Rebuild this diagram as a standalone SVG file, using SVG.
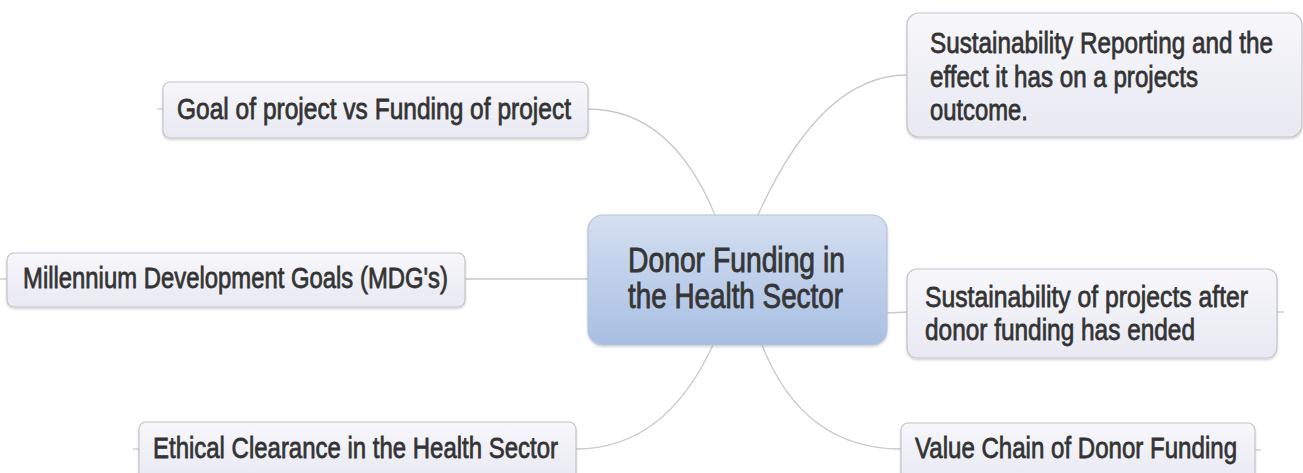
<svg xmlns="http://www.w3.org/2000/svg" width="1303" height="473" viewBox="0 0 1303 473">
<defs>
<linearGradient id="leafFill" x1="0" y1="0" x2="0" y2="1">
<stop offset="0" stop-color="#f7f7fb"/>
<stop offset="1" stop-color="#e8e9f2"/>
</linearGradient>
<linearGradient id="centerFill" x1="0" y1="0" x2="0" y2="1">
<stop offset="0" stop-color="#d4dff1"/>
<stop offset="1" stop-color="#a8bfe3"/>
</linearGradient>
<filter id="shadow" x="-5%" y="-10%" width="110%" height="130%">
<feDropShadow dx="0" dy="1.5" stdDeviation="1.2" flood-color="#000" flood-opacity="0.18"/>
</filter>
</defs>
<style>
.leaf{fill:url(#leafFill);stroke:#c4c4c8;stroke-width:1.2;filter:url(#shadow)}
.center{fill:url(#centerFill);stroke:#b6c3d8;stroke-width:1.2;filter:url(#shadow)}
.t{font-family:"Liberation Sans Narrow","Liberation Sans",Arial,sans-serif;font-size:29.5px;fill:#333333;stroke:#333333;stroke-width:0.75}
.tc{font-family:"Liberation Sans Narrow","Liberation Sans",Arial,sans-serif;font-size:34.5px;fill:#363636;stroke:#363636;stroke-width:0.85}
.c{fill:none;stroke:#c9c9c9;stroke-width:1.3}
</style>
<rect width="1303" height="473" fill="#ffffff"/>
<g id="connectors">
<path class="c" d="M465,279 L588,279"/>
<path class="c" d="M0,279 L7,279"/>
<path class="c" d="M588,109 Q671,109 715,215"/>
<path class="c" d="M157,109 L163,109"/>
<path class="c" d="M758,215 Q821,75 907,75"/>
<path class="c" d="M887,313 L907,312"/>
<path class="c" d="M1277,312 L1284,312"/>
<path class="c" d="M713,345 Q665,449 576,449"/>
<path class="c" d="M133,449 L139,449"/>
<path class="c" d="M762,345 Q803,449 901,449"/>
<path class="c" d="M1255,450 L1261,450"/>
</g>
<g id="node-center">
<rect class="center" x="588" y="215" width="299" height="130" rx="15"/>
<text class="tc" transform="translate(628,272) scale(0.82,1)" textLength="264.6" lengthAdjust="spacingAndGlyphs">Donor Funding in</text>
<text class="tc" transform="translate(628,308) scale(0.82,1)" textLength="262.2" lengthAdjust="spacingAndGlyphs">the Health Sector</text>
</g>
<g id="node-goal">
<rect class="leaf" x="163" y="82" width="425" height="56" rx="7"/>
<text class="t" transform="translate(177,119) scale(0.82,1)" textLength="480.5" lengthAdjust="spacingAndGlyphs">Goal of project vs Funding of project</text>
</g>
<g id="node-mdg">
<rect class="leaf" x="7" y="253" width="458" height="54" rx="7"/>
<text class="t" transform="translate(23,288) scale(0.82,1)" textLength="518.3" lengthAdjust="spacingAndGlyphs">Millennium Development Goals (MDG's)</text>
</g>
<g id="node-ethical">
<rect class="leaf" x="139" y="422" width="437" height="60" rx="7"/>
<text class="t" transform="translate(153,458) scale(0.82,1)" textLength="493.9" lengthAdjust="spacingAndGlyphs">Ethical Clearance in the Health Sector</text>
</g>
<g id="node-reporting">
<rect class="leaf" x="907" y="13" width="395" height="124" rx="12"/>
<text class="t" transform="translate(930,53) scale(0.82,1)" textLength="418.3" lengthAdjust="spacingAndGlyphs">Sustainability Reporting and the</text>
<text class="t" transform="translate(930,86.5) scale(0.82,1)" textLength="326.8" lengthAdjust="spacingAndGlyphs">effect it has on a projects</text>
<text class="t" transform="translate(930,120) scale(0.82,1)" textLength="119.5" lengthAdjust="spacingAndGlyphs">outcome.</text>
</g>
<g id="node-sustain">
<rect class="leaf" x="907" y="269" width="370" height="89" rx="10"/>
<text class="t" transform="translate(925,307) scale(0.82,1)" textLength="393.9" lengthAdjust="spacingAndGlyphs">Sustainability of projects after</text>
<text class="t" transform="translate(925,340) scale(0.82,1)" textLength="329.3" lengthAdjust="spacingAndGlyphs">donor funding has ended</text>
</g>
<g id="node-value">
<rect class="leaf" x="901" y="423" width="354" height="60" rx="7"/>
<text class="t" transform="translate(915,458) scale(0.82,1)" textLength="392.7" lengthAdjust="spacingAndGlyphs">Value Chain of Donor Funding</text>
</g>
</svg>
